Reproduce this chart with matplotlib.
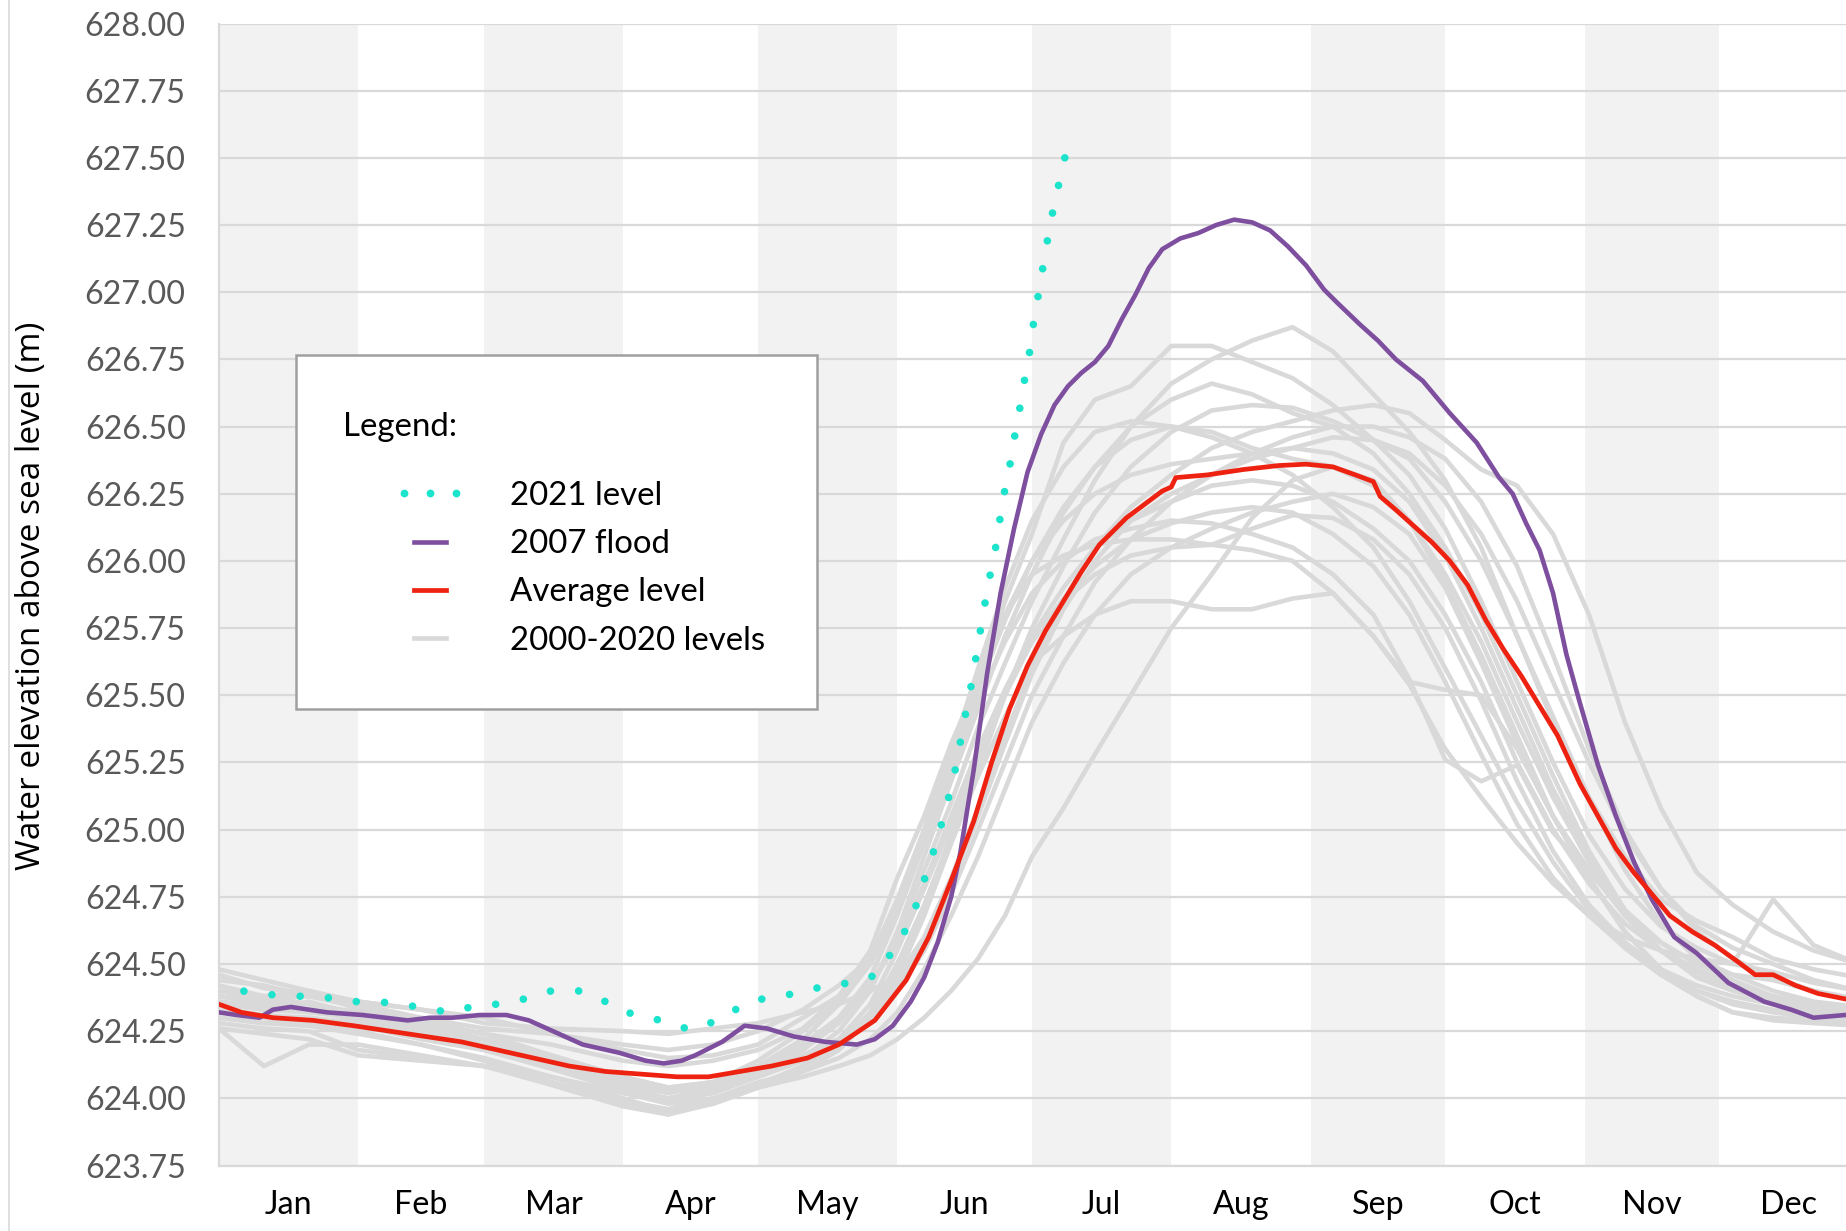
import matplotlib
matplotlib.use("Agg")
import matplotlib.pyplot as plt
from matplotlib.lines import Line2D
from matplotlib.patches import Rectangle
from matplotlib.legend_handler import HandlerLine2D
import numpy as np

# ---------------- data ----------------
MONTHS = ["Jan", "Feb", "Mar", "Apr", "May", "Jun", "Jul", "Aug", "Sep", "Oct", "Nov", "Dec"]
MONTH_LENGTHS = [31, 28, 31, 30, 31, 30, 31, 31, 30, 31, 30, 31]
Y_MIN, Y_MAX, Y_STEP = 623.75, 628.00, 0.25

AVG_DAYS = [0, 5, 12, 21, 30, 38, 46, 54, 62, 70, 78, 86, 94, 102, 109, 116, 123, 131, 138,
            146, 153, 158, 163, 168, 172, 176, 180, 184, 188, 192, 196, 202, 206, 210, 212,
            213, 220, 228, 236, 242, 248, 253, 257, 258.5, 262, 266, 270, 274, 278, 282, 286,
            290, 294, 298, 303, 307, 311, 315, 318, 323, 328, 333, 338, 342, 346, 351, 356,
            362, 365]
AVG_LEVEL = [624.35, 624.32, 624.30, 624.29, 624.27, 624.25, 624.23, 624.21, 624.18, 624.15,
             624.12, 624.10, 624.09, 624.08, 624.08, 624.10, 624.12, 624.15, 624.20, 624.29,
             624.44, 624.60, 624.81, 625.03, 625.25, 625.45, 625.61, 625.74, 625.85, 625.96,
             626.06, 626.16, 626.21, 626.26, 626.275, 626.31, 626.32, 626.34, 626.355, 626.36,
             626.35, 626.32, 626.295, 626.24, 626.19, 626.13, 626.07, 626.00, 625.91, 625.78,
             625.67, 625.57, 625.46, 625.35, 625.17, 625.05, 624.93, 624.84, 624.78, 624.68,
             624.62, 624.57, 624.51, 624.46, 624.46, 624.42, 624.39, 624.37, 624.36]

FLOOD_DAYS = [0, 4, 9, 12, 16, 24, 32, 42, 47, 52, 58, 64, 69, 73, 81, 89, 95, 99, 103, 106,
              112, 117, 122, 128, 135, 142, 146, 150, 154, 157, 160, 163, 165, 168, 171, 174,
              177, 180, 183, 186, 189, 192, 195, 198, 201, 204, 207, 210, 214, 218, 222, 226,
              230, 234, 238, 242, 246, 249, 254, 258, 262, 268, 274, 280, 285, 288, 291, 294,
              297, 300, 303, 307, 311, 315, 319, 324, 329, 336, 344, 350, 355, 362, 365]
FLOOD_LEVEL = [624.32, 624.31, 624.30, 624.33, 624.34, 624.32, 624.31, 624.29, 624.30, 624.30,
               624.31, 624.31, 624.29, 624.26, 624.20, 624.17, 624.14, 624.13, 624.14, 624.16,
               624.21, 624.27, 624.26, 624.23, 624.21, 624.20, 624.22, 624.27, 624.36, 624.45,
               624.58, 624.75, 624.91, 625.22, 625.58, 625.88, 626.12, 626.33, 626.47, 626.58,
               626.65, 626.70, 626.74, 626.80, 626.90, 626.99, 627.09, 627.16, 627.20, 627.22,
               627.25, 627.27, 627.26, 627.23, 627.17, 627.10, 627.01, 626.96, 626.88, 626.82,
               626.75, 626.67, 626.55, 626.44, 626.31, 626.25, 626.14, 626.04, 625.88, 625.65,
               625.47, 625.24, 625.05, 624.88, 624.74, 624.60, 624.54, 624.43, 624.36, 624.33,
               624.30, 624.31, 624.31]

Y2021_DAYS = [5, 12, 18, 24, 29, 35, 41, 47, 52, 58, 63, 68, 74, 80, 85, 90, 95, 101, 106, 112,
              117, 123, 129, 135, 141, 146.5, 150, 153, 155.5, 157.5, 159.3, 161, 162.6, 164,
              165.2, 166.3, 167.5, 168.5, 169.6, 170.6, 171.7, 172.9, 173.9, 174.9, 176.1,
              177.2, 178.3, 179.3, 180.4, 181.3, 182.3, 183.3, 184.4, 185.5, 186.8, 188.3]
Y2021_LEVEL = [624.40, 624.385, 624.38, 624.375, 624.36, 624.36, 624.35, 624.33, 624.32, 624.35,
               624.35, 624.37, 624.40, 624.40, 624.37, 624.32, 624.31, 624.27, 624.255, 624.30,
               624.35, 624.38, 624.39, 624.42, 624.43, 624.46, 624.55, 624.63, 624.73, 624.84,
               624.93, 625.03, 625.13, 625.23, 625.34, 625.44, 625.54, 625.64, 625.75, 625.85,
               625.95, 626.05, 626.16, 626.26, 626.36, 626.47, 626.57, 626.67, 626.77, 626.88,
               626.98, 627.08, 627.19, 627.29, 627.39, 627.50]

HIST_DAYS = [0, 10, 20, 31, 45, 59, 74, 90, 100, 110, 120, 130, 138, 145, 151, 157, 163, 169,
             175, 181, 188, 195, 203, 212, 221, 230, 239, 248, 257, 265, 273, 281, 289, 297,
             305, 313, 321, 329, 337, 346, 355, 365]
HIST_LEVELS = [
    [624.46, 624.41, 624.39, 624.36, 624.33, 624.30, 624.24, 624.18, 624.15, 624.16, 624.20, 624.30, 624.38, 624.55, 624.82, 625.05, 625.32, 625.55, 625.85, 626.10, 626.44, 626.60, 626.65, 626.80, 626.80, 626.74, 626.68, 626.58, 626.45, 626.32, 626.12, 625.85, 625.55, 625.25, 624.98, 624.78, 624.64, 624.56, 624.50, 624.47, 624.43, 624.40],
    [624.38, 624.36, 624.35, 624.30, 624.25, 624.20, 624.14, 624.06, 624.03, 624.05, 624.10, 624.18, 624.28, 624.42, 624.60, 624.85, 625.10, 625.38, 625.62, 625.85, 626.08, 626.30, 626.50, 626.66, 626.75, 626.82, 626.87, 626.78, 626.62, 626.48, 626.30, 626.05, 625.72, 625.40, 625.12, 624.90, 624.74, 624.66, 624.60, 624.52, 624.48, 624.45],
    [624.42, 624.38, 624.40, 624.33, 624.28, 624.24, 624.16, 624.08, 624.04, 624.06, 624.12, 624.20, 624.30, 624.45, 624.68, 624.95, 625.25, 625.52, 625.78, 626.00, 626.20, 626.35, 626.50, 626.60, 626.66, 626.62, 626.55, 626.50, 626.40, 626.25, 626.05, 625.80, 625.50, 625.20, 624.92, 624.70, 624.55, 624.48, 624.42, 624.38, 624.35, 624.33],
    [624.35, 624.33, 624.32, 624.30, 624.26, 624.22, 624.15, 624.05, 623.99, 624.02, 624.08, 624.14, 624.20, 624.30, 624.45, 624.68, 624.95, 625.22, 625.50, 625.75, 625.98, 626.18, 626.35, 626.48, 626.56, 626.58, 626.57, 626.52, 626.45, 626.38, 626.22, 626.00, 625.72, 625.42, 625.12, 624.85, 624.65, 624.52, 624.46, 624.40, 624.36, 624.34],
    [624.48, 624.44, 624.40, 624.36, 624.33, 624.28, 624.26, 624.25, 624.24, 624.26, 624.28, 624.32, 624.35, 624.40, 624.45, 624.60, 624.82, 625.08, 625.35, 625.60, 625.85, 626.05, 626.20, 626.32, 626.42, 626.48, 626.52, 626.56, 626.58, 626.55, 626.45, 626.34, 626.28, 626.10, 625.80, 625.40, 625.08, 624.84, 624.72, 624.62, 624.55, 624.50],
    [624.30, 624.28, 624.30, 624.27, 624.22, 624.18, 624.12, 624.04, 624.00, 624.02, 624.08, 624.15, 624.25, 624.40, 624.62, 624.90, 625.18, 625.45, 625.72, 625.95, 626.18, 626.35, 626.45, 626.50, 626.48, 626.42, 626.38, 626.35, 626.28, 626.15, 625.95, 625.70, 625.40, 625.12, 624.88, 624.68, 624.55, 624.45, 624.40, 624.36, 624.32, 624.30],
    [624.40, 624.38, 624.35, 624.32, 624.27, 624.22, 624.15, 624.07, 624.02, 624.05, 624.10, 624.16, 624.22, 624.30, 624.42, 624.58, 624.80, 625.05, 625.32, 625.58, 625.82, 626.00, 626.15, 626.25, 626.32, 626.38, 626.42, 626.46, 626.45, 626.40, 626.28, 626.10, 625.85, 625.55, 625.25, 624.98, 624.78, 624.62, 624.52, 624.45, 624.40, 624.36],
    [624.32, 624.30, 624.28, 624.25, 624.20, 624.14, 624.06, 623.98, 623.94, 623.98, 624.04, 624.08, 624.12, 624.16, 624.22, 624.30, 624.40, 624.52, 624.68, 624.90, 625.08, 625.28, 625.50, 625.75, 625.95, 626.16, 626.30, 626.35, 626.30, 626.15, 625.92, 625.65, 625.35, 625.05, 624.82, 624.62, 624.48, 624.38, 624.32, 624.30, 624.29, 624.28],
    [624.36, 624.33, 624.36, 624.31, 624.26, 624.20, 624.12, 624.02, 623.98, 624.00, 624.05, 624.12, 624.22, 624.35, 624.55, 624.78, 625.02, 625.28, 625.52, 625.72, 625.90, 626.05, 626.15, 626.22, 626.28, 626.30, 626.28, 626.22, 626.12, 626.00, 625.80, 625.55, 625.25, 625.00, 624.80, 624.65, 624.55, 624.48, 624.42, 624.38, 624.35, 624.32],
    [624.28, 624.26, 624.25, 624.18, 624.15, 624.12, 624.06, 623.99, 623.96, 624.00, 624.06, 624.10, 624.15, 624.22, 624.32, 624.48, 624.68, 624.90, 625.15, 625.40, 625.62, 625.80, 625.95, 626.05, 626.12, 626.18, 626.22, 626.25, 626.20, 626.10, 625.90, 625.62, 625.32, 625.05, 624.82, 624.62, 624.48, 624.40, 624.35, 624.32, 624.30, 624.28],
    [624.26, 624.12, 624.20, 624.20, 624.16, 624.12, 624.08, 624.02, 624.00, 624.04, 624.12, 624.22, 624.35, 624.50, 624.70, 624.95, 625.22, 625.48, 625.70, 625.88, 626.00, 626.08, 626.12, 626.15, 626.14, 626.10, 626.05, 625.95, 625.80, 625.56, 625.26, 625.18, 625.24, 624.99, 624.84, 624.70, 624.58, 624.50, 624.44, 624.38, 624.34, 624.32],
    [624.38, 624.35, 624.33, 624.29, 624.24, 624.18, 624.11, 624.03, 624.00, 624.03, 624.10, 624.20, 624.30, 624.42, 624.58, 624.80, 625.05, 625.30, 625.52, 625.70, 625.85, 625.95, 626.02, 626.05, 626.06, 626.04, 626.00, 625.88, 625.72, 625.55, 625.52, 625.50, 625.30, 625.05, 624.85, 624.68, 624.55, 624.47, 624.41, 624.37, 624.34, 624.31],
    [624.30, 624.28, 624.27, 624.24, 624.20, 624.15, 624.08, 624.00, 623.95, 623.98, 624.04, 624.10, 624.18, 624.30, 624.48, 624.70, 624.95, 625.20, 625.42, 625.62, 625.72, 625.80, 625.85, 625.85, 625.82, 625.82, 625.86, 625.88, 625.72, 625.54, 625.30, 625.12, 624.95, 624.80, 624.68, 624.56, 624.46, 624.38, 624.32, 624.29, 624.28, 624.27],
    [624.44, 624.42, 624.38, 624.35, 624.30, 624.26, 624.24, 624.20, 624.18, 624.20, 624.25, 624.33, 624.42, 624.52, 624.72, 625.00, 625.30, 625.58, 625.80, 625.95, 626.02, 626.06, 626.08, 626.08, 626.06, 626.12, 626.17, 626.16, 626.08, 625.95, 625.75, 625.48, 625.18, 624.92, 624.72, 624.58, 624.48, 624.42, 624.38, 624.35, 624.33, 624.31],
    [624.40, 624.37, 624.38, 624.34, 624.29, 624.24, 624.20, 624.14, 624.12, 624.14, 624.18, 624.26, 624.38, 624.52, 624.74, 625.00, 625.28, 625.55, 625.80, 626.00, 626.15, 626.25, 626.32, 626.36, 626.38, 626.40, 626.42, 626.40, 626.34, 626.22, 626.02, 625.75, 625.45, 625.15, 624.90, 624.70, 624.58, 624.50, 624.46, 624.44, 624.40, 624.37],
    [624.33, 624.31, 624.30, 624.28, 624.23, 624.19, 624.13, 624.05, 624.02, 624.06, 624.14, 624.25, 624.36, 624.50, 624.70, 624.98, 625.28, 625.60, 625.90, 626.15, 626.35, 626.48, 626.52, 626.50, 626.46, 626.40, 626.32, 626.20, 626.05, 625.85, 625.60, 625.35, 625.10, 624.88, 624.70, 624.56, 624.46, 624.40, 624.36, 624.33, 624.31, 624.30],
    [624.36, 624.34, 624.33, 624.30, 624.27, 624.22, 624.16, 624.08, 624.04, 624.06, 624.10, 624.16, 624.22, 624.30, 624.40, 624.55, 624.76, 625.00, 625.25, 625.50, 625.72, 625.92, 626.08, 626.22, 626.32, 626.40, 626.46, 626.50, 626.50, 626.46, 626.38, 626.22, 625.98, 625.65, 625.30, 625.00, 624.78, 624.64, 624.56, 624.50, 624.44, 624.40],
    [624.26, 624.24, 624.22, 624.16, 624.14, 624.12, 624.05, 623.97, 623.94, 623.99, 624.05, 624.12, 624.20, 624.32, 624.50, 624.72, 624.98, 625.25, 625.50, 625.70, 625.86, 625.98, 626.08, 626.14, 626.18, 626.20, 626.18, 626.10, 625.98, 625.80, 625.55, 625.28, 625.02, 624.82, 624.68, 624.60, 624.55, 624.52, 624.50, 624.74, 624.57, 624.50],
]

LABELS = ["2021 level", "2007 flood", "Average level", "2000-2020 levels"]

# ---------------- style ----------------
C_2021 = "#1CE3CB"
C_2007 = "#7E4E9F"
C_AVG = "#EE2211"
C_HIST = "#D9D9D9"
C_BAND = "#F2F2F2"
C_GRID = "#D9D9D9"

TICK_FONT = "Lato"
FS = 23.2
FS_LEG = 23.8

W, H = 1846, 1231
fig = plt.figure(figsize=(W / 100, H / 100), dpi=100)
ax = fig.add_axes([219 / W, 1 - 1165.5 / H, 1639.5 / W, (1165.5 - 23.5) / H])

month_starts = np.concatenate([[0], np.cumsum(MONTH_LENGTHS)])
month_mids = month_starts[:-1] + np.array(MONTH_LENGTHS) / 2.0

for i in range(0, 12, 2):
    ax.axvspan(month_starts[i], month_starts[i + 1], color=C_BAND, lw=0, zorder=0.1)

ax.set_xlim(0, 365)
ax.set_ylim(Y_MIN, Y_MAX)
yticks = np.arange(Y_MIN, Y_MAX + 1e-9, Y_STEP)
ax.set_yticks(yticks)
ax.set_yticklabels([f"{v:.2f}" for v in yticks])
ax.set_xticks(month_mids)
ax.set_xticklabels(MONTHS)
ax.set_axisbelow(True)
ax.grid(axis="y", color=C_GRID, lw=1.6)
ax.grid(axis="x", visible=False)
for s in ["top", "right"]:
    ax.spines[s].set_visible(False)
for s in ["left", "bottom"]:
    ax.spines[s].set_color(C_GRID)
    ax.spines[s].set_linewidth(1.6)
ax.tick_params(axis="both", length=0)
ax.tick_params(axis="y", pad=24, labelcolor="#595959", labelsize=FS)
ax.tick_params(axis="x", pad=18, labelcolor="black", labelsize=FS)
for lab in ax.get_xticklabels() + ax.get_yticklabels():
    lab.set_fontfamily(TICK_FONT)

for series in HIST_LEVELS:
    ax.plot(HIST_DAYS, series, color=C_HIST, lw=3.3, zorder=2, solid_joinstyle="round")
ax.plot(FLOOD_DAYS, FLOOD_LEVEL, color=C_2007, lw=3.3, zorder=3, solid_joinstyle="round")
ax.plot(AVG_DAYS, AVG_LEVEL, color=C_AVG, lw=3.4, zorder=4, solid_joinstyle="round")
# drawn from the last reading backwards so that a dot sits on the final value
ax.plot(Y2021_DAYS[::-1], Y2021_LEVEL[::-1], color=C_2021, lw=5.5, zorder=5,
        linestyle=(0, (0.001, 3.7)), dash_capstyle="round")

# y label
fig.text(32 / W, 1 - 596 / H, "Water elevation above sea level (m)", rotation=90,
         ha="center", va="center", fontsize=24, family="Open Sans", color="black")

# thin chart border on the far left
fig.add_artist(Line2D([9 / W, 9 / W], [0, 1], transform=fig.transFigure, color="#D9D9D9", lw=1.2))

# legend box
fig.add_artist(Rectangle((295.5 / W, 1 - 708.7 / H), (817 - 295.5) / W, (708.7 - 355.5) / H,
                         transform=fig.transFigure, facecolor="white", edgecolor="#A0A0A0",
                         lw=1.8, zorder=10))
fig.text(343 / W, 1 - 427 / H, "Legend:", ha="left", va="center", fontsize=FS_LEG,
         family=TICK_FONT, zorder=11)

h2021 = Line2D([], [], ls="none", marker="o", ms=5.6, color=C_2021, markeredgewidth=0)
h2007 = Line2D([], [], color=C_2007, lw=3.3)
havg = Line2D([], [], color=C_AVG, lw=3.4)
hhist = Line2D([], [], color=C_HIST, lw=3.4)
leg = fig.legend([h2021, h2007, havg, hhist], LABELS, loc="upper left",
                 bbox_to_anchor=(404 / W, 1 - 481 / H), bbox_transform=fig.transFigure,
                 frameon=False, prop={"family": TICK_FONT, "size": FS_LEG},
                 handlelength=1.58, handletextpad=1.62, labelspacing=0.55,
                 borderpad=0, borderaxespad=0, numpoints=3,
                 handler_map={h2021: HandlerLine2D(numpoints=3, marker_pad=0)})
leg.set_zorder(12)

fig.savefig("out.png", dpi=100)
